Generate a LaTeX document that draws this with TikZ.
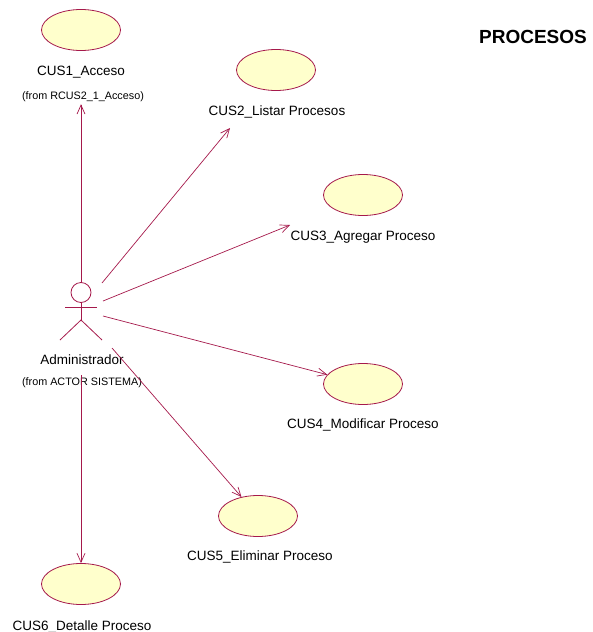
\documentclass[tikz,border=0pt]{standalone}
\usepackage{fontspec}
\setmainfont{Liberation Sans}
\usetikzlibrary{shapes.geometric,arrows.meta}
\definecolor{umlred}{RGB}{165,25,75}
\definecolor{ucfill}{RGB}{255,255,204}
\begin{document}
\begin{tikzpicture}[x=1pt,y=-1pt,
		>={Straight Barb[length=9pt,width=8pt]},
		uc/.style={ellipse,draw=umlred,fill=ucfill,line width=0.8pt,minimum width=79pt,minimum height=41pt,inner sep=0pt},
		lbl/.style={font=\fontsize{13.5}{16}\selectfont},
		frm/.style={font=\fontsize{10.8}{13}\selectfont,inner sep=2pt}]
		\useasboundingbox (0,0) rectangle (593,632);
		\def \hx{81}
		\def \hy{292.5}
		\def \hr{10}
		\node[font=\bfseries\fontsize{19}{22}\selectfont] (title) at (533,37) {PROCESOS};
		\node[uc] (u1) at (81,30) {};
		\node[uc] (u2) at (276,70) {};
		\node[uc] (u3) at (363,195) {};
		\node[uc] (u4) at (363,384) {};
		\node[uc] (u5) at (258,516) {};
		\node[uc] (u6) at (81,584) {};
		\node[lbl] (l1) at (81,72) {CUS1\_Acceso};
		\node[frm] (f1) at (83,97) {(from RCUS2\_1\_Acceso)};
		\node[lbl] (l2) at (277,112) {CUS2\_Listar Procesos};
		\node[lbl] (l3) at (363,237) {CUS3\_Agregar Proceso};
		\node[lbl] (l4) at (363,425) {CUS4\_Modificar Proceso};
		\node[lbl] (l5) at (260,557) {CUS5\_Eliminar Proceso};
		\node[lbl] (l6) at (82,627) {CUS6\_Detalle Proceso};
		\node[lbl] (adm) at (82,360) {Administrador};
		\node[frm] (fadm) at (82,383) {(from ACTOR SISTEMA)};
		\begin{scope}[draw=umlred,line width=0.8pt]
			\draw (\hx,\hy) circle (\hr);
			\draw (\hx,\hy+\hr) -- (\hx,320);
			\draw (65,307) -- (97,307);
			\draw (60,340) -- (\hx,320) -- (102,340);
		\end{scope}
		\coordinate (a1) at (\hx,\hy-\hr);
		\coordinate (a2) at (102,283);
		\coordinate (a3) at (103,301);
		\coordinate (a4) at (103,316);
		\coordinate (a5) at (112,348);
		\coordinate (a6) at (\hx,375);
		\coordinate (t2) at (230,128);
		\coordinate (t3) at (290,225);
		\begin{scope}[draw=umlred,line width=0.7pt]
			\draw[->] (a1) -- (a1 |- f1.south);
			\draw[->] (a2) -- (t2);
			\draw[->] (a3) -- (t3);
			\draw[->] (a4) -- (u4);
			\draw[->] (a5) -- (u5);
			\draw[->] (a6) -- (u6);
		\end{scope}
	\end{tikzpicture}
\end{document}
